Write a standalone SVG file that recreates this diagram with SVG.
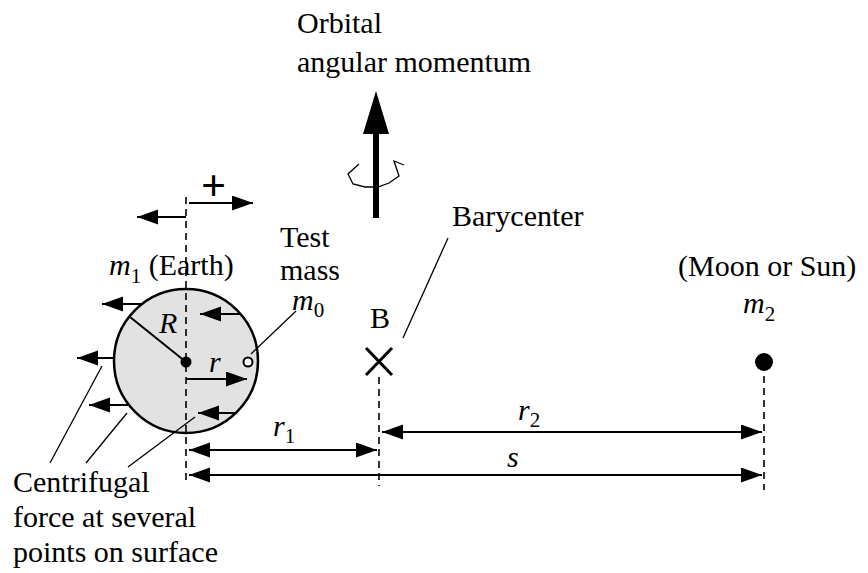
<svg xmlns="http://www.w3.org/2000/svg" width="868" height="573" viewBox="0 0 868 573" font-family="'Liberation Serif', 'DejaVu Serif', serif">
<style>
text{font-family:'Liberation Serif','DejaVu Serif',serif;font-size:30px;fill:#000}
.it{font-style:italic}
.sub{font-size:21px;font-style:normal}
.big{font-size:44px;font-weight:bold}
.ln{stroke:#000;stroke-width:2;fill:none}
.thin{stroke:#000;stroke-width:1.3;fill:none}
.dash{stroke:#000;stroke-width:1.6;stroke-dasharray:7,5;fill:none}
.arr{stroke:#000;stroke-width:2;fill:none;marker-end:url(#ah)}
.dim{stroke:#000;stroke-width:2;fill:none;marker-start:url(#ah);marker-end:url(#ah)}
</style>
<defs>
<marker id="ah" markerUnits="userSpaceOnUse" markerWidth="22" markerHeight="16" refX="21" refY="7.5" orient="auto-start-reverse" viewBox="0 0 22 16">
<path d="M0,0 L21,7.5 L0,15 Z" fill="#000"/>
</marker>
</defs>
<rect width="868" height="573" fill="#fff"/>

<g id="earth">
<circle cx="186" cy="361" r="72" fill="#e2e2e2" stroke="#000" stroke-width="2.5"/>
<circle cx="186" cy="362" r="5.5" fill="#000"/>
<line class="ln" x1="186" y1="362" x2="130" y2="317"/>
<text class="it" x="159" y="333">R</text>
<text class="it" x="109" y="275">m<tspan class="sub" dy="8">1</tspan><tspan dy="-8" style="font-style:normal"> (Earth)</tspan></text>
</g>

<g id="testmass">
<circle cx="248" cy="362" r="4.5" fill="#fff" stroke="#000" stroke-width="2"/>
<text x="280" y="247">Test</text>
<text x="280" y="280">mass</text>
<text class="it" x="292" y="310">m<tspan class="sub" dy="7">0</tspan></text>
</g>

<g id="barycenter">
<line x1="366" y1="348" x2="392" y2="375" stroke="#000" stroke-width="3"/>
<line x1="392" y1="348" x2="366" y2="375" stroke="#000" stroke-width="3"/>
<text x="370" y="328">B</text>
<text x="452" y="226">Barycenter</text>
</g>

<g id="m2">
<circle cx="764" cy="362" r="9" fill="#000"/>
<text x="678" y="276">(Moon or Sun)</text>
<text class="it" x="743" y="313">m<tspan class="sub" dy="8">2</tspan></text>
</g>

<g id="angmom">
<text x="297" y="33">Orbital</text>
<text x="297" y="72">angular momentum</text>
<line x1="376" y1="128" x2="376" y2="218" stroke="#000" stroke-width="6"/>
<path d="M376,91 L389,134 L363,134 Z" fill="#000"/>
<path class="thin" d="M359,164 L348,174 L353,184 L365,187 L378,187 L389,183 L399,176 L394,161 L404,165"/>
</g>

<g id="sign">
<text class="big" x="201" y="200">+</text>
</g>

<g id="centrifugal-label">
<text x="13" y="492">Centrifugal</text>
<text x="13" y="527">force at several</text>
<text x="13" y="562">points on surface</text>
</g>

<g id="connectors">
<line class="dash" x1="186" y1="197" x2="186" y2="484"/>
<line class="dash" x1="379" y1="377" x2="379" y2="486"/>
<line class="dash" x1="764" y1="376" x2="764" y2="490"/>
<line class="arr" x1="186" y1="217" x2="137" y2="217"/>
<line class="arr" x1="189" y1="203" x2="253" y2="203"/>
<line class="arr" x1="141" y1="304" x2="102" y2="304"/>
<line class="arr" x1="114" y1="358" x2="77" y2="358"/>
<line class="arr" x1="128" y1="405" x2="89" y2="405"/>
<line class="arr" x1="240" y1="314" x2="200" y2="314"/>
<line class="arr" x1="237" y1="413" x2="198" y2="413"/>
<line class="arr" x1="186" y1="379" x2="247" y2="379"/>
<text class="it" x="209" y="372">r</text>
<line class="thin" x1="102" y1="366" x2="50" y2="463"/>
<line class="thin" x1="127" y1="413" x2="86" y2="463"/>
<line class="thin" x1="195" y1="417" x2="128" y2="467"/>
<line class="thin" x1="251" y1="354" x2="296" y2="311"/>
<line class="thin" x1="403" y1="338" x2="448" y2="238"/>
<line class="dim" x1="189" y1="450" x2="377" y2="450"/>
<line class="dim" x1="382" y1="432" x2="762" y2="432"/>
<line class="dim" x1="189" y1="475" x2="762" y2="475"/>
<text class="it" x="273" y="436">r<tspan class="sub" dy="7">1</tspan></text>
<text class="it" x="518" y="420">r<tspan class="sub" dy="7">2</tspan></text>
<text class="it" x="507" y="467">s</text>
</g>
</svg>
